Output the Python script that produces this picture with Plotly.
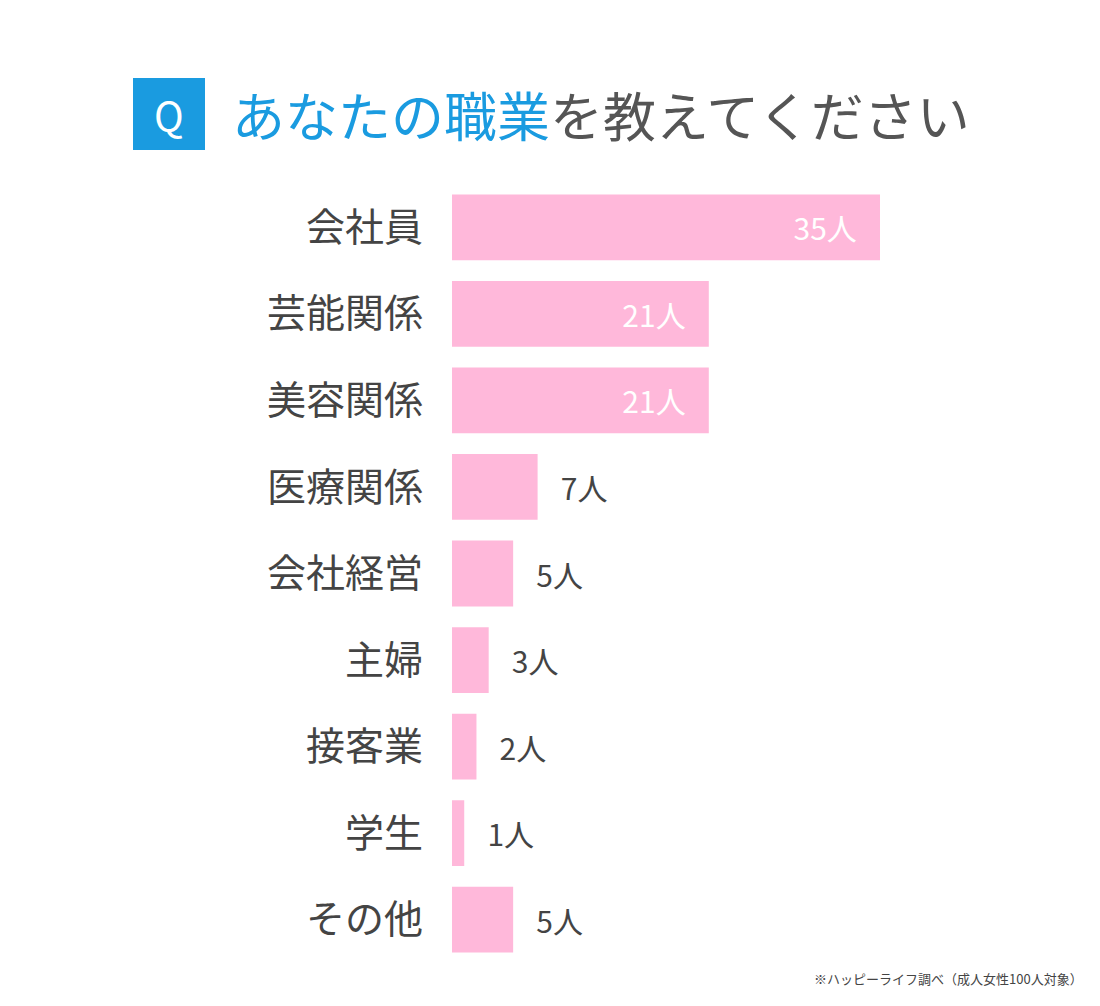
import plotly.graph_objects as go

categories = ["会社員", "芸能関係", "美容関係", "医療関係", "会社経営", "主婦", "接客業", "学生", "その他"]
values = [35, 21, 21, 7, 5, 3, 2, 1, 5]
unit = "人"

W, H = 1100, 1006
OFF = 8
L, R, T, B = 452 - OFF, 220 + OFF, 184 - OFF, 43 + OFF
FONT = "Noto Sans CJK JP"

positions = ["inside" if v >= 15 else "outside" for v in values]
texts = [f"{v}{unit}\u00a0\u00a0\u00a0" if v >= 15 else f"\u00a0\u00a0\u00a0{v}{unit}" for v in values]
fig = go.Figure(go.Bar(
    y=categories, x=values, orientation="h",
    marker=dict(color="#ffb8da", line=dict(width=0)),
    text=texts, textposition=positions,
    insidetextanchor="end",
    insidetextfont=dict(color="white", size=30, family=FONT),
    outsidetextfont=dict(color="#444444", size=30, family=FONT),
    cliponaxis=False, textangle=0,
))

def px(x):
    return (x - OFF - L) / (W - L - R)

def py(y):
    return (H - B - (y - OFF)) / (H - T - B)

fig.update_layout(
    width=W, height=H, plot_bgcolor="white", paper_bgcolor="white",
    margin=dict(l=L, r=R, t=T, b=B), bargap=0.24, showlegend=False,
    font=dict(family=FONT, color="#444444"),
    xaxis=dict(range=[0, 35], visible=False),
    yaxis=dict(autorange="reversed", showgrid=False, showline=False, ticks="",
               tickfont=dict(size=39, color="#444444", family=FONT), ticklabelstandoff=28),
    shapes=[dict(type="rect", xref="paper", yref="paper", x0=px(133), x1=px(205),
                 y0=py(150), y1=py(78), fillcolor="#1a9be0", line=dict(width=0))],
    annotations=[
        dict(xref="paper", yref="paper", x=px(169), y=py(114), text="Q", showarrow=False,
             font=dict(size=40, color="white", family=FONT), xanchor="center", yanchor="middle"),
        dict(xref="paper", yref="paper", x=px(230), y=py(114), showarrow=False,
             text="<span style='color:#1a9be0'>あなたの職業</span>を教えてください",
             font=dict(size=53, color="#555555", family=FONT), xanchor="left", yanchor="middle"),
        dict(xref="paper", yref="paper", x=px(1085), y=py(978), showarrow=False,
             text="※ハッピーライフ調べ（成人女性100人対象）",
             font=dict(size=13, color="#444444", family=FONT), xanchor="right", yanchor="middle"),
    ],
)
fig.write_html("out.html")
